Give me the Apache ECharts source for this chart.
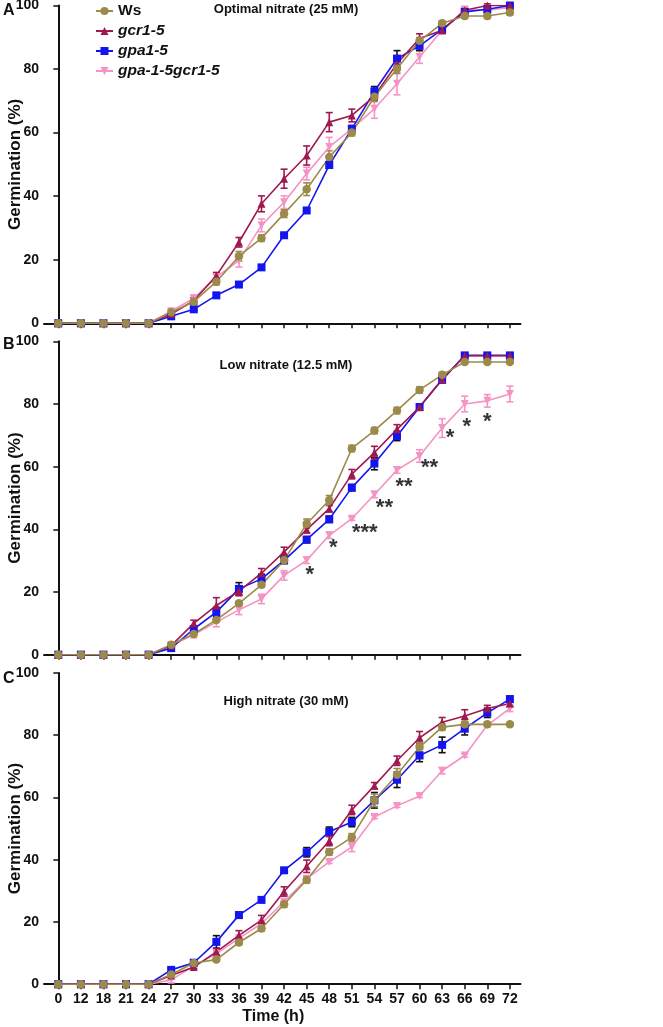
<!DOCTYPE html>
<html><head><meta charset="utf-8">
<script src="https://cdn.jsdelivr.net/npm/echarts@6/dist/echarts.min.js"></script>
<style>html,body{margin:0;padding:0;background:#fff}#c{width:663px;height:1027px}</style>
</head><body><div id="c"></div>
<script>
// ---------- DATA ----------
const timeLabels = ['0','12','18','21','24','27','30','33','36','39','42','45','48','51','54','57','60','63','66','69','72'];
const seriesNames = ['Ws','gcr1-5','gpa1-5','gpa-1-5gcr1-5'];
const panelTitles = ['Optimal nitrate (25 mM)','Low nitrate (12.5 mM)','High nitrate (30 mM)'];
const panelLetters = ['A','B','C'];

// Panel A: optimal nitrate
const optWs    = [0,0,0,0,0,3.5,6.8,13.1,21.1,26.8,34.5,42.2,52.3,60.0,71.3,80.1,88.9,94.4,96.7,96.7,97.8];
const optWsE   = [0,0,0,0,0,0.8,1,1,1.5,1,1.2,2,2,1,1.5,1.5,1,0.8,0.8,0.8,0.8];
const optGcr   = [0,0,0,0,0,2.9,7.1,15.0,25.5,37.6,45.5,52.8,63.3,65.4,71.5,81.7,89.6,92.2,98.5,100,100];
const optGcrE  = [0,0,0,0,0,0.5,1,1,1.5,2.5,3,3,3,2,1.5,1.5,1.5,1,0.5,0.5,0.5];
const optGpa   = [0,0,0,0,0,2.2,4.4,8.8,12.2,17.6,27.7,35.5,49.8,61.2,73.0,83.3,87.3,92.5,98.0,98.8,100];
const optGpaE  = [0,0,0,0,0,0.5,0.5,0.5,0.5,0.5,0.5,0.5,1,1,1.5,2.5,1.5,1,1,1,0.5];
const optDbl   = [0,0,0,0,0,3.8,7.9,14.5,19.7,30.8,38.1,47.1,55.5,61.2,67.5,75.4,83.8,92.2,98.7,98.5,99.4];
const optDblE  = [0,0,0,0,0,0.5,1,1,2,2,2,2,3,1,3,3.5,2,1,1,1,1];

// Panel B: low nitrate
const lowWs    = [0,0,0,0,0,3.2,6.6,11.1,16.4,22.3,30.1,41.8,49.3,65.8,71.5,77.9,84.5,89.3,93.4,93.4,93.4];
const lowWsE   = [0,0,0,0,0,0.5,0.5,0.5,0.5,0.8,1,1.5,1.5,1,1,1,1,0.8,0.5,0.5,0.5];
const lowGcr   = [0,0,0,0,0,2.9,10.0,15.7,20.3,26.0,32.8,39.9,46.6,57.6,64.5,71.9,79.0,87.9,95.4,95.4,95.4];
const lowGcrE  = [0,0,0,0,0,1,1,2.5,1.5,1.5,1.5,1,1,1.5,2,1.5,1,1,0.5,0.5,0.5];
const lowGpa   = [0,0,0,0,0,2.1,8.2,13.6,21.0,24.2,30.1,36.7,43.2,53.3,61.0,69.8,79.0,87.7,95.5,95.5,95.5];
const lowGpaE  = [0,0,0,0,0,0.5,1,1.5,2,1.5,1,1,1,1,2,1.5,1,0.5,0.5,0.5,0.5];
const lowDbl   = [0,0,0,0,0,2.9,6.4,10.4,14.3,17.8,25.3,30.1,38.1,43.4,51.1,58.9,63.4,72.3,80.0,81.0,83.2];
const lowDblE  = [0,0,0,0,0,0.5,1,1.5,1.5,1.5,1.5,1,1,0.5,1,1,2,3,2.5,2,2.5];
// significance marks (panel B)
const sigIndex = [11,12,13,14,15,16,17,18,19];
const sigValue = [27.0,35.6,40.3,48.3,55.0,61.1,70.7,74.4,75.8];
const sigText  = ['*','*','***','**','**','**','*','*','*'];

// Panel C: high nitrate
const highWs   = [0,0,0,0,0,3.1,6.8,7.9,13.4,17.9,25.7,33.5,42.5,47.2,59.1,67.3,76.2,82.6,83.5,83.5,83.5];
const highWsE  = [0,0,0,0,0,0.5,0.5,0.5,0.8,0.8,1,1,1,1.2,2,2,1.5,1,1,0.5,0.5];
const highGcr  = [0,0,0,0,0,2.8,5.5,10.4,15.7,20.6,29.8,37.9,46.0,56.0,63.8,71.8,79.2,84.2,86.2,88.6,90.2];
const highGcrE = [0,0,0,0,0,0.5,0.5,1,1.5,1.5,1.5,2,1.5,1.5,1,1.5,2,1.5,2,1,1];
const highGpa  = [0,0,0,0,0,4.6,6.9,13.6,22.2,27.1,36.6,42.4,49.0,52.1,59.1,65.7,73.5,76.9,82.1,87.2,91.6];
const highGpaE = [0,0,0,0,0,0.5,0.5,2,1,0.8,0.8,1.5,1.5,1.5,2.5,2.5,2,2.5,2,1.5,1];
const highDbl  = [0,0,0,0,0,1.4,5.8,9.8,14.7,19.5,26.5,33.9,39.3,44.1,53.7,57.3,60.5,68.6,73.5,83.2,88.6];
const highDblE = [0,0,0,0,0,1,0.5,0.5,0.5,0.5,1,0.5,0.5,1.5,0.5,0.5,0.5,1,0.5,0.5,1];

// ---------- STYLE / BUILD ----------
const panels = [
  {vals:[optWs,optGcr,optGpa,optDbl], errs:[optWsE,optGcrE,optGpaE,optDblE]},
  {vals:[lowWs,lowGcr,lowGpa,lowDbl], errs:[lowWsE,lowGcrE,lowGpaE,lowDblE]},
  {vals:[highWs,highGcr,highGpa,highDbl], errs:[highWsE,highGcrE,highGpaE,highDblE]}
];
const colors = ['#9C8A4B','#A0184F','#1414F0','#F493C4'];
const errColors = ['#9C8A4B','#A0184F','#111111','#F493C4'];
const symbols = ['circle','triangle','rect','path://M0,0 L10,0 L5,9 Z'];
const symSizes = [8.5,8,8,8];
const drawOrder = [3,2,1,0];
const FONT = '"Liberation Sans",Arial,sans-serif';

const grids = [
  {left:44, top:5.5, width:476.5, height:317.8, outerBoundsMode:'none', containLabel:false},
  {left:44, top:341.3, width:476.5, height:313.4, outerBoundsMode:'none', containLabel:false},
  {left:44, top:673, width:476.5, height:311.2, outerBoundsMode:'none', containLabel:false}
];
const idxs = timeLabels.map((_, i) => i);

const xAxes = grids.map((g, k) => ({
  type:'value', gridIndex:k, min:-0.633, max:20.47,
  splitLine:{show:false},
  axisLine:{show:true, onZero:false, lineStyle:{color:'#111', width:2}},
  axisTick:{show:true, customValues:idxs, length:5, lineStyle:{color:'#111', width:1.5}},
  axisLabel:{show:k===2, customValues:idxs, formatter:v => timeLabels[Math.round(v)],
    fontFamily:FONT, fontWeight:'bold', fontSize:14, color:'#111', margin:8},
  name: k===2 ? 'Time (h)' : '', nameLocation:'middle', nameGap:24, nameMoveOverlap:false,
  nameTextStyle:{fontFamily:FONT, fontWeight:'bold', fontSize:16, color:'#111', padding:[0,18,0,0]}
}));
const yAxes = grids.map((g, k) => ({
  type:'value', gridIndex:k, min:0, max:100, interval:20,
  splitLine:{show:false},
  axisLine:{show:true, lineStyle:{color:'#111', width:2}},
  axisTick:{show:true, length:5, lineStyle:{color:'#111', width:1.5}},
  axisLabel:{fontFamily:FONT, fontWeight:'bold', fontSize:14, color:'#111', margin:5},
  name:'Germination (%)', nameLocation:'middle', nameGap:20, nameRotate:90, nameMoveOverlap:false,
  nameTextStyle:{fontFamily:FONT, fontWeight:'bold', fontSize:17, color:'#111'}
}));

const series = [];
panels.forEach((p, k) => {
  drawOrder.forEach(s => {
    const errData = p.vals[s].map((v, i) => [i, v, p.errs[s][i]]).filter(d => d[2] > 0);
    series.push({
      type:'custom', xAxisIndex:k, yAxisIndex:k, silent:true, z:2,
      data: errData,
      renderItem:(params, api) => {
        const x = api.value(0), v = api.value(1), e = api.value(2);
        const hi = api.coord([x, v + e]), lo = api.coord([x, v - e]);
        const w = 3.5;
        const st = {stroke:errColors[s], lineWidth:1.6};
        return {type:'group', children:[
          {type:'line', shape:{x1:hi[0], y1:hi[1], x2:lo[0], y2:lo[1]}, style:st},
          {type:'line', shape:{x1:hi[0]-w, y1:hi[1], x2:hi[0]+w, y2:hi[1]}, style:st},
          {type:'line', shape:{x1:lo[0]-w, y1:lo[1], x2:lo[0]+w, y2:lo[1]}, style:st}
        ]};
      }
    });
    series.push({
      type:'line', name:seriesNames[s], xAxisIndex:k, yAxisIndex:k, z:3,
      data: p.vals[s].map((v, i) => [i, v]),
      symbol:symbols[s], symbolSize:symSizes[s], showAllSymbol:true,
      color:colors[s],
      lineStyle:{color:colors[s], width:1.6},
      itemStyle:{color:colors[s]},
      animation:false
    });
  });
});
const sigOffsets = [[3,5],[4,5],[13,5],[10,5],[7,5],[10,5],[8,5],[2,5],[0,5]];
series.push({
  type:'scatter', xAxisIndex:1, yAxisIndex:1, symbolSize:0, silent:true, z:5,
  data: sigIndex.map((x, i) => ({value:[x, sigValue[i]],
    label:{show:true, formatter:sigText[i], position:'inside', offset:sigOffsets[i],
      fontFamily:FONT, fontWeight:'bold', fontSize:22, color:'#000'}}))
});

const chart = echarts.init(document.getElementById('c'), null, {renderer:'canvas'});
chart.setOption({
  animation:false,
  backgroundColor:'#fff',
  grid: grids,
  xAxis: xAxes,
  yAxis: yAxes,
  title: panelTitles.map((t, k) => ({
    text:t, left:286, top:[3, 359, 695][k], textAlign:'center', padding:0,
    textStyle:{fontFamily:FONT, fontWeight:'bold', fontSize:13, color:'#111'}
  })),
  graphic: panelLetters.map((L, k) => ({
    type:'text', left:3, top:[3, 337, 671][k],
    style:{text:L, fontFamily:FONT, fontWeight:'bold', fontSize:16, fill:'#111'}
  })),
  legend:{
    data: seriesNames, orient:'vertical', left:95, top:3, padding:0,
    itemWidth:17, itemHeight:10, itemGap:4, selectedMode:false,
    formatter: n => n === 'Ws' ? '{n|' + n + '}' : '{i|' + n + '}',
    textStyle:{color:'#111', rich:{
      n:{fontFamily:FONT, fontWeight:'bold', fontSize:15.5, color:'#111', height:16},
      i:{fontFamily:FONT, fontWeight:'bold', fontStyle:'italic', fontSize:15.5, color:'#111', height:16}
    }}
  },
  series: series
});
</script></body></html>
